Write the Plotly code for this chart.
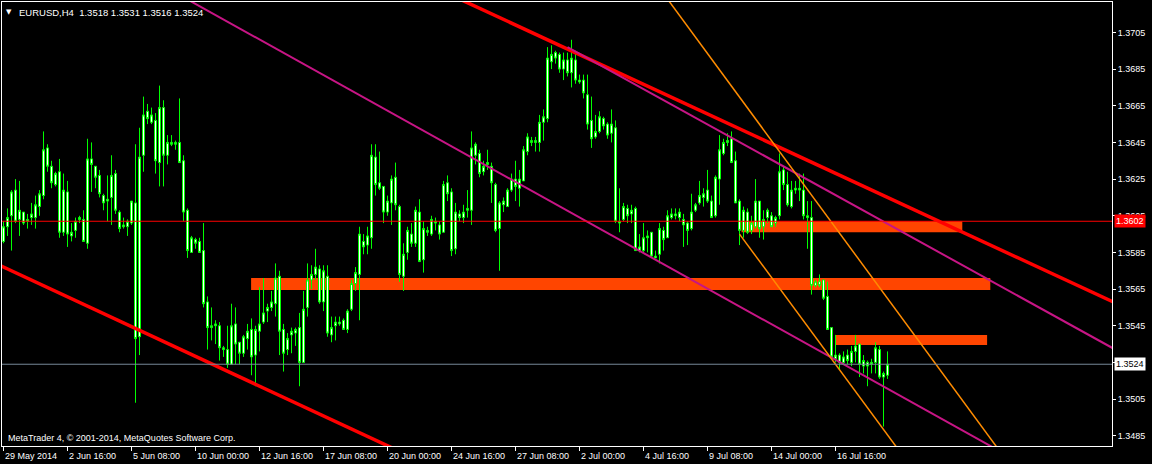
import numpy as np
import plotly.graph_objects as go

# ---------------- data (EURUSD H4) ----------------
date_labels = ["29 May 2014", "2 Jun 16:00", "5 Jun 08:00", "10 Jun 00:00", "12 Jun 16:00",
               "17 Jun 08:00", "20 Jun 00:00", "24 Jun 16:00", "27 Jun 08:00", "2 Jul 00:00",
               "4 Jul 16:00", "9 Jul 08:00", "14 Jul 00:00", "16 Jul 16:00"]
label_bars = [0, 16, 32, 48, 64, 80, 96, 112, 128, 144, 160, 176, 192, 208]

price_ticks = [1.3485, 1.3505, 1.3525, 1.3545, 1.3565, 1.3585, 1.3605, 1.3625, 1.3645, 1.3665, 1.3685, 1.3705]

opens = [1.3591, 1.3599, 1.3605, 1.3619, 1.3603, 1.3607, 1.3602, 1.3604, 1.3604, 1.3610,
         1.3616, 1.3642, 1.3632, 1.3622, 1.3629, 1.3596, 1.3618, 1.3594, 1.3597, 1.3603,
         1.3603, 1.3590, 1.3636, 1.3632, 1.3627, 1.3616, 1.3613, 1.3615, 1.3628, 1.3607,
         1.3599, 1.3599, 1.3601, 1.3612, 1.3539, 1.3638, 1.3662, 1.3656, 1.3657, 1.3634,
         1.3664, 1.3638, 1.3645, 1.3645, 1.3645, 1.3635, 1.3608, 1.3585, 1.3592, 1.3591,
         1.3586, 1.3558, 1.3544, 1.3545, 1.3545, 1.3533, 1.3532, 1.3524, 1.3546, 1.3536,
         1.3530, 1.3538, 1.3543, 1.3529, 1.3542, 1.3547, 1.3553, 1.3555, 1.3557, 1.3572,
         1.3543, 1.3532, 1.3540, 1.3541, 1.3544, 1.3525, 1.3555, 1.3570, 1.3573, 1.3576,
         1.3558, 1.3572, 1.3540, 1.3545, 1.3547, 1.3548, 1.3543, 1.3554, 1.3568, 1.3573,
         1.3591, 1.3589, 1.3593, 1.3637, 1.3623, 1.3621, 1.3607, 1.3612, 1.3626, 1.3610,
         1.3572, 1.3585, 1.3595, 1.3590, 1.3607, 1.3581, 1.3597, 1.3595, 1.3602, 1.3600,
         1.3596, 1.3623, 1.3618, 1.3587, 1.3606, 1.3604, 1.3608, 1.3608, 1.3638, 1.3639,
         1.3629, 1.3633, 1.3632, 1.3622, 1.3598, 1.3611, 1.3610, 1.3619, 1.3625, 1.3620,
         1.3624, 1.3640, 1.3646, 1.3645, 1.3645, 1.3656, 1.3658, 1.3689, 1.3694, 1.3693,
         1.3685, 1.3690, 1.3683, 1.3690, 1.3679, 1.3679, 1.3671, 1.3657, 1.3648, 1.3651,
         1.3658, 1.3655, 1.3650, 1.3653, 1.3602, 1.3603, 1.3609, 1.3606, 1.3609, 1.3586,
         1.3586, 1.3593, 1.3596, 1.3582, 1.3584, 1.3597, 1.3593, 1.3604, 1.3606, 1.3604,
         1.3603, 1.3601, 1.3598, 1.3608, 1.3612, 1.3615, 1.3619, 1.3613, 1.3605, 1.3625,
         1.3639, 1.3645, 1.3647, 1.3635, 1.3613, 1.3597, 1.3607, 1.3597, 1.3599, 1.3613,
         1.3599, 1.3604, 1.3605, 1.3601, 1.3605, 1.3630, 1.3622, 1.3610, 1.3619, 1.3620,
         1.3619, 1.3605, 1.3604, 1.3567, 1.3569, 1.3570, 1.3561, 1.3544, 1.3527, 1.3529,
         1.3525, 1.3529, 1.3525, 1.3531, 1.3535, 1.3523, 1.3525, 1.3524, 1.3525, 1.3532,
         1.3517, 1.3518]
highs = [1.3602, 1.3609, 1.3619, 1.3625, 1.3624, 1.3607, 1.3606, 1.3612, 1.3616, 1.3619,
         1.3651, 1.3644, 1.3635, 1.3629, 1.3636, 1.3628, 1.3624, 1.3601, 1.3604, 1.3605,
         1.3608, 1.3647, 1.3645, 1.3632, 1.3630, 1.3617, 1.3627, 1.3638, 1.3630, 1.3608,
         1.3604, 1.3603, 1.3613, 1.3644, 1.3653, 1.3670, 1.3666, 1.3664, 1.3661, 1.3676,
         1.3668, 1.3649, 1.3649, 1.3646, 1.3669, 1.3638, 1.3609, 1.3594, 1.3593, 1.3593,
         1.3601, 1.3561, 1.3555, 1.3548, 1.3547, 1.3534, 1.3545, 1.3557, 1.3555, 1.3536,
         1.3540, 1.3546, 1.3549, 1.3545, 1.3566, 1.3571, 1.3557, 1.3564, 1.3579, 1.3575,
         1.3546, 1.3541, 1.3544, 1.3544, 1.3552, 1.3564, 1.3579, 1.3578, 1.3587, 1.3578,
         1.3578, 1.3578, 1.3550, 1.3550, 1.3550, 1.3549, 1.3554, 1.3570, 1.3577, 1.3599,
         1.3595, 1.3599, 1.3644, 1.3644, 1.3640, 1.3621, 1.3616, 1.3627, 1.3634, 1.3611,
         1.3590, 1.3599, 1.3601, 1.3610, 1.3614, 1.3602, 1.3599, 1.3605, 1.3604, 1.3602,
         1.3624, 1.3627, 1.3620, 1.3612, 1.3608, 1.3611, 1.3619, 1.3651, 1.3645, 1.3641,
         1.3635, 1.3641, 1.3634, 1.3623, 1.3613, 1.3615, 1.3620, 1.3628, 1.3635, 1.3630,
         1.3643, 1.3650, 1.3648, 1.3648, 1.3660, 1.3663, 1.3697, 1.3698, 1.3695, 1.3694,
         1.3694, 1.3694, 1.3701, 1.3695, 1.3682, 1.3682, 1.3682, 1.3670, 1.3660, 1.3662,
         1.3659, 1.3656, 1.3663, 1.3657, 1.3620, 1.3612, 1.3611, 1.3611, 1.3610, 1.3595,
         1.3601, 1.3597, 1.3596, 1.3586, 1.3601, 1.3599, 1.3608, 1.3609, 1.3609, 1.3609,
         1.3606, 1.3602, 1.3617, 1.3612, 1.3624, 1.3620, 1.3630, 1.3616, 1.3627, 1.3649,
         1.3647, 1.3650, 1.3651, 1.3640, 1.3614, 1.3610, 1.3609, 1.3605, 1.3625, 1.3613,
         1.3608, 1.3609, 1.3607, 1.3605, 1.3639, 1.3632, 1.3629, 1.3624, 1.3624, 1.3628,
         1.3628, 1.3613, 1.3613, 1.3570, 1.3573, 1.3570, 1.3569, 1.3544, 1.3540, 1.3530,
         1.3531, 1.3532, 1.3534, 1.3540, 1.3535, 1.3529, 1.3526, 1.3527, 1.3536, 1.3534,
         1.3520, 1.3531]
lows = [1.3590, 1.3594, 1.3586, 1.3601, 1.3594, 1.3600, 1.3598, 1.3600, 1.3598, 1.3605,
        1.3614, 1.3629, 1.3620, 1.3621, 1.3593, 1.3594, 1.3588, 1.3591, 1.3593, 1.3601,
        1.3591, 1.3587, 1.3618, 1.3620, 1.3615, 1.3608, 1.3602, 1.3600, 1.3606, 1.3596,
        1.3598, 1.3594, 1.3600, 1.3503, 1.3529, 1.3629, 1.3655, 1.3655, 1.3628, 1.3621,
        1.3621, 1.3633, 1.3643, 1.3641, 1.3634, 1.3602, 1.3582, 1.3585, 1.3587, 1.3585,
        1.3555, 1.3532, 1.3537, 1.3535, 1.3526, 1.3528, 1.3522, 1.3524, 1.3524, 1.3524,
        1.3528, 1.3532, 1.3518, 1.3512, 1.3531, 1.3546, 1.3547, 1.3553, 1.3550, 1.3529,
        1.3520, 1.3529, 1.3530, 1.3534, 1.3512, 1.3525, 1.3550, 1.3565, 1.3570, 1.3557,
        1.3553, 1.3539, 1.3536, 1.3537, 1.3545, 1.3543, 1.3541, 1.3553, 1.3564, 1.3548,
        1.3584, 1.3584, 1.3587, 1.3616, 1.3619, 1.3601, 1.3605, 1.3600, 1.3608, 1.3569,
        1.3564, 1.3581, 1.3588, 1.3588, 1.3580, 1.3574, 1.3594, 1.3594, 1.3597, 1.3592,
        1.3596, 1.3613, 1.3583, 1.3584, 1.3602, 1.3601, 1.3604, 1.3600, 1.3633, 1.3626,
        1.3627, 1.3630, 1.3612, 1.3596, 1.3575, 1.3607, 1.3610, 1.3618, 1.3613, 1.3610,
        1.3624, 1.3638, 1.3643, 1.3640, 1.3640, 1.3646, 1.3656, 1.3685, 1.3688, 1.3683,
        1.3679, 1.3681, 1.3675, 1.3677, 1.3677, 1.3669, 1.3652, 1.3642, 1.3647, 1.3650,
        1.3652, 1.3647, 1.3645, 1.3601, 1.3596, 1.3602, 1.3601, 1.3601, 1.3586, 1.3585,
        1.3585, 1.3585, 1.3582, 1.3582, 1.3579, 1.3586, 1.3593, 1.3603, 1.3603, 1.3602,
        1.3588, 1.3589, 1.3597, 1.3607, 1.3611, 1.3610, 1.3612, 1.3604, 1.3604, 1.3611,
        1.3638, 1.3643, 1.3634, 1.3612, 1.3589, 1.3593, 1.3595, 1.3595, 1.3598, 1.3593,
        1.3592, 1.3601, 1.3599, 1.3599, 1.3603, 1.3619, 1.3610, 1.3609, 1.3617, 1.3613,
        1.3603, 1.3587, 1.3562, 1.3566, 1.3566, 1.3559, 1.3543, 1.3527, 1.3525, 1.3521,
        1.3524, 1.3524, 1.3523, 1.3525, 1.3517, 1.3519, 1.3512, 1.3519, 1.3519, 1.3516,
        1.3490, 1.3516]
closes = [1.3599, 1.3604, 1.3618, 1.3602, 1.3608, 1.3601, 1.3603, 1.3606, 1.3611, 1.3617,
          1.3641, 1.3632, 1.3623, 1.3628, 1.3596, 1.3619, 1.3595, 1.3596, 1.3602, 1.3604,
          1.3591, 1.3636, 1.3633, 1.3626, 1.3617, 1.3612, 1.3614, 1.3627, 1.3608, 1.3598,
          1.3600, 1.3602, 1.3613, 1.3538, 1.3637, 1.3660, 1.3658, 1.3660, 1.3635, 1.3664,
          1.3638, 1.3645, 1.3644, 1.3644, 1.3634, 1.3607, 1.3586, 1.3593, 1.3590, 1.3585,
          1.3557, 1.3544, 1.3545, 1.3546, 1.3533, 1.3532, 1.3524, 1.3545, 1.3535, 1.3530,
          1.3539, 1.3542, 1.3528, 1.3543, 1.3546, 1.3552, 1.3555, 1.3558, 1.3571, 1.3542,
          1.3530, 1.3538, 1.3542, 1.3543, 1.3525, 1.3554, 1.3570, 1.3573, 1.3577, 1.3558,
          1.3575, 1.3541, 1.3544, 1.3547, 1.3546, 1.3543, 1.3553, 1.3568, 1.3574, 1.3595,
          1.3588, 1.3594, 1.3638, 1.3622, 1.3620, 1.3607, 1.3613, 1.3625, 1.3611, 1.3573,
          1.3584, 1.3597, 1.3590, 1.3608, 1.3580, 1.3598, 1.3596, 1.3603, 1.3601, 1.3595,
          1.3622, 1.3617, 1.3586, 1.3607, 1.3604, 1.3607, 1.3609, 1.3642, 1.3644, 1.3628,
          1.3632, 1.3634, 1.3623, 1.3597, 1.3612, 1.3613, 1.3619, 1.3625, 1.3621, 1.3625,
          1.3641, 1.3648, 1.3645, 1.3646, 1.3656, 1.3659, 1.3691, 1.3693, 1.3691, 1.3685,
          1.3690, 1.3683, 1.3691, 1.3679, 1.3678, 1.3672, 1.3655, 1.3647, 1.3651, 1.3659,
          1.3654, 1.3649, 1.3655, 1.3602, 1.3601, 1.3610, 1.3605, 1.3608, 1.3586, 1.3588,
          1.3593, 1.3594, 1.3583, 1.3583, 1.3598, 1.3592, 1.3605, 1.3606, 1.3605, 1.3607,
          1.3600, 1.3597, 1.3607, 1.3611, 1.3616, 1.3617, 1.3613, 1.3604, 1.3626, 1.3641,
          1.3645, 1.3646, 1.3634, 1.3612, 1.3597, 1.3608, 1.3596, 1.3601, 1.3613, 1.3598,
          1.3603, 1.3608, 1.3599, 1.3604, 1.3629, 1.3622, 1.3611, 1.3619, 1.3620, 1.3619,
          1.3605, 1.3604, 1.3567, 1.3569, 1.3567, 1.3560, 1.3543, 1.3528, 1.3529, 1.3525,
          1.3528, 1.3526, 1.3531, 1.3534, 1.3524, 1.3526, 1.3523, 1.3525, 1.3533, 1.3517,
          1.3519, 1.3524]

# chart objects: (bar index, price) anchor pairs
red_channel_upper = [(134, 1.3703), (224, 1.3612)]
red_channel_lower = [(0, 1.3577), (66, 1.3510)]
magenta_line_a = [(74, 1.3689), (224, 1.3507)]
magenta_line_b = [(141, 1.3697), (224, 1.3597)]      # ray to the right
orange_line_a = [(192, 1.3646), (224, 1.3551)]
orange_line_b = [(184, 1.3595), (222, 1.34825)]       # ray to the right
zones = [  # (start bar, end bar, low price, high price)
    (184.5, 239.7, 1.3596, 1.3602),
    (61.9, 246.7, 1.35645, 1.3571),
    (208.0, 245.9, 1.35345, 1.3540),
]
hline_level = 1.3602
bid_level = 1.3524
header = "EURUSD,H4  1.3518 1.3531 1.3516 1.3524"
copyright_text = "MetaTrader 4, \u00a9 2001-2014, MetaQuotes Software Corp."

# ---------------- figure ----------------
X_MIN, X_MAX = -0.375, 277.125
Y_MIN, Y_MAX = 1.34794, 1.37216
bars = list(range(len(opens)))

fig = go.Figure()

fig.add_trace(go.Candlestick(
    x=bars, open=opens, high=highs, low=lows, close=closes,
    increasing=dict(line=dict(color="#00FF00", width=1), fillcolor="#FFFFFF"),
    decreasing=dict(line=dict(color="#00FF00", width=1), fillcolor="#FFFFFF"),
    hoverinfo="skip", showlegend=False,
))


def line_trace(anchors, color, width, ray_left=True):
    (x0, p0), (x1, p1) = anchors
    slope = (p1 - p0) / (x1 - x0)
    xs = np.array([X_MIN - 2 if ray_left else x0, X_MAX + 2])
    ys = p0 + slope * (xs - x0)
    return go.Scatter(x=xs, y=ys, mode="lines", line=dict(color=color, width=width),
                      hoverinfo="skip", showlegend=False)


fig.add_trace(line_trace(red_channel_upper, "#FF0000", 3.5))
fig.add_trace(line_trace(red_channel_lower, "#FF0000", 3.5))
fig.add_trace(line_trace(magenta_line_a, "#C71585", 2))
fig.add_trace(line_trace(magenta_line_b, "#C71585", 2, ray_left=False))
fig.add_trace(line_trace(orange_line_a, "#FF8C00", 1.5))
fig.add_trace(line_trace(orange_line_b, "#FF8C00", 1.5, ray_left=False))

shapes = []
for x0, x1, lo, hi in zones:
    shapes.append(dict(type="rect", xref="x", yref="y", x0=x0, x1=x1, y0=lo, y1=hi,
                       fillcolor="#FF4500", line=dict(width=0), layer="below"))
shapes.append(dict(type="line", xref="paper", yref="y", x0=0, x1=1, y0=hline_level, y1=hline_level,
                   line=dict(color="#FF0000", width=1), layer="above"))
shapes.append(dict(type="line", xref="paper", yref="y", x0=0, x1=1, y0=bid_level, y1=bid_level,
                   line=dict(color="#778899", width=1), layer="above"))

annotations = []
for b, t in zip(label_bars, date_labels):
    annotations.append(dict(x=b, xref="x", y=0, yref="paper", text=t, showarrow=False,
                            xanchor="left", yanchor="top", yshift=-3, xshift=-1,
                            font=dict(size=9, color="#FFFFFF")))
annotations.append(dict(x=0, xref="paper", y=1, yref="paper", text="\u25bc", showarrow=False,
                        xanchor="left", yanchor="top", xshift=2, yshift=-4,
                        font=dict(size=7, color="#FFFFFF", family="DejaVu Sans")))
annotations.append(dict(x=0, xref="paper", y=1, yref="paper", text=header, showarrow=False,
                        xanchor="left", yanchor="top", xshift=15, yshift=-3,
                        font=dict(size=9.5, color="#FFFFFF")))
annotations.append(dict(x=0, xref="paper", y=0, yref="paper", text=copyright_text, showarrow=False,
                        xanchor="left", yanchor="bottom", xshift=4, yshift=1,
                        font=dict(size=9, color="#FFFFFF")))
annotations.append(dict(x=1, xref="paper", y=hline_level, yref="y", text=f"{hline_level:.4f}",
                        showarrow=False, xanchor="left", yanchor="middle", xshift=2,
                        bgcolor="#FF0000", borderpad=1, font=dict(size=9, color="#FFFFFF")))
annotations.append(dict(x=1, xref="paper", y=bid_level, yref="y", text=f"{bid_level:.4f}",
                        showarrow=False, xanchor="left", yanchor="middle", xshift=2,
                        bgcolor="#FFFFFF", borderpad=1, font=dict(size=9, color="#000000")))

fig.update_layout(
    width=1152, height=464,
    margin=dict(l=2, r=40, t=2, b=18),
    paper_bgcolor="#000000", plot_bgcolor="#000000",
    font=dict(family="Liberation Sans", size=9, color="#FFFFFF"),
    showlegend=False,
    boxgap=0.5, boxgroupgap=0,
    shapes=shapes, annotations=annotations,
    xaxis=dict(range=[X_MIN, X_MAX], showgrid=False, zeroline=False,
               showline=True, linecolor="#FFFFFF", linewidth=1, mirror=True,
               ticks="outside", ticklen=4, tickcolor="#FFFFFF", tickvals=label_bars,
               showticklabels=False, rangeslider=dict(visible=False), fixedrange=True),
    yaxis=dict(range=[Y_MIN, Y_MAX], side="right", showgrid=False, zeroline=False,
               showline=True, linecolor="#FFFFFF", linewidth=1, mirror=True,
               ticks="outside", ticklen=3, tickcolor="#FFFFFF",
               tickvals=price_ticks, ticktext=[f"{p:.4f}" for p in price_ticks],
               tickfont=dict(size=9, color="#FFFFFF"), fixedrange=True),
)

fig.write_html("out.html", config={"displayModeBar": False},
               post_script="document.body.style.margin='0';document.body.style.overflow='hidden';")
